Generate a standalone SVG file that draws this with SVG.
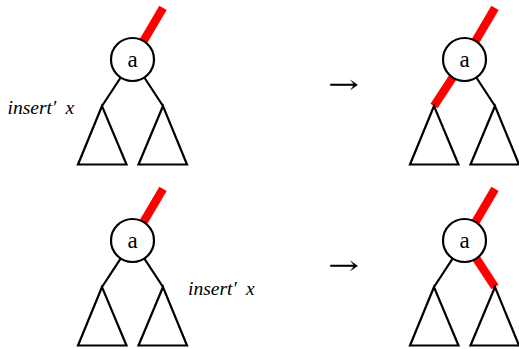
<svg xmlns="http://www.w3.org/2000/svg" width="519" height="349" viewBox="0 0 519 349">
<style>
.edge{stroke:#000;stroke-width:2.2;fill:none}
.red{stroke:#ff0000;stroke-width:8.5;fill:none;stroke-linecap:butt}
.node{fill:#fff;stroke:#000;stroke-width:2.2}
.tri{fill:none;stroke:#000;stroke-width:2.2;stroke-linejoin:miter}
.lbl{font-family:"Liberation Serif","DejaVu Serif",serif;font-size:23px;fill:#000}
.ins{font-family:"Liberation Serif","DejaVu Serif",serif;font-style:italic;font-size:19.5px;fill:#000}
.arr{font-family:"DejaVu Serif",serif;font-size:26px;fill:#000}
</style>
<g id="connectors">
  <line class="red" x1="142.7" y1="42.3" x2="163" y2="7.8"/>
  <line class="edge" x1="132.5" y1="59.5" x2="102" y2="106"/>
  <line class="edge" x1="132.5" y1="59.5" x2="163" y2="106"/>
  <line class="red" x1="474.7" y1="42.3" x2="495" y2="7.8"/>
  <line class="red" x1="464.5" y1="59.5" x2="434" y2="106"/>
  <line class="edge" x1="464.5" y1="59.5" x2="495" y2="106"/>
  <line class="red" x1="142.7" y1="223.3" x2="163" y2="188.8"/>
  <line class="edge" x1="132.5" y1="240.5" x2="102" y2="287"/>
  <line class="edge" x1="132.5" y1="240.5" x2="163" y2="287"/>
  <line class="red" x1="474.7" y1="223.3" x2="495" y2="188.8"/>
  <line class="edge" x1="464.5" y1="240.5" x2="434" y2="287"/>
  <line class="red" x1="464.5" y1="240.5" x2="495" y2="287"/>
</g>
<g id="tree-top-left">
  <g id="tl-a"><circle class="node" cx="132.5" cy="59.5" r="21.5"/><text class="lbl" x="132.5" y="66.5" text-anchor="middle">a</text></g>
  <polygon id="tl-left" class="tri" points="102,106 78,164.5 126.5,164.5"/>
  <polygon id="tl-right" class="tri" points="163,106 138.5,164.5 187,164.5"/>
</g>
<g id="tree-top-right">
  <g id="tr-a"><circle class="node" cx="464.5" cy="59.5" r="21.5"/><text class="lbl" x="464.5" y="66.5" text-anchor="middle">a</text></g>
  <polygon id="tr-left" class="tri" points="434,106 410,164.5 458.5,164.5"/>
  <polygon id="tr-right" class="tri" points="495,106 470.5,164.5 519,164.5"/>
</g>
<g id="tree-bottom-left">
  <g id="bl-a"><circle class="node" cx="132.5" cy="240.5" r="21.5"/><text class="lbl" x="132.5" y="247.5" text-anchor="middle">a</text></g>
  <polygon id="bl-left" class="tri" points="102,287 78,345.5 126.5,345.5"/>
  <polygon id="bl-right" class="tri" points="163,287 138.5,345.5 187,345.5"/>
</g>
<g id="tree-bottom-right">
  <g id="br-a"><circle class="node" cx="464.5" cy="240.5" r="21.5"/><text class="lbl" x="464.5" y="247.5" text-anchor="middle">a</text></g>
  <polygon id="br-left" class="tri" points="434,287 410,345.5 458.5,345.5"/>
  <polygon id="br-right" class="tri" points="495,287 470.5,345.5 519,345.5"/>
</g>
<g id="label-top"><text class="ins" x="7.5" y="114">insert′<tspan x="65.5">x</tspan></text></g>
<g id="label-bottom"><text class="ins" x="188" y="295">insert′<tspan x="246">x</tspan></text></g>
<g id="arrow-top"><text class="arr" x="328" y="93" textLength="31" lengthAdjust="spacingAndGlyphs">→</text></g>
<g id="arrow-bottom"><text class="arr" x="328" y="274" textLength="31" lengthAdjust="spacingAndGlyphs">→</text></g>
</svg>
